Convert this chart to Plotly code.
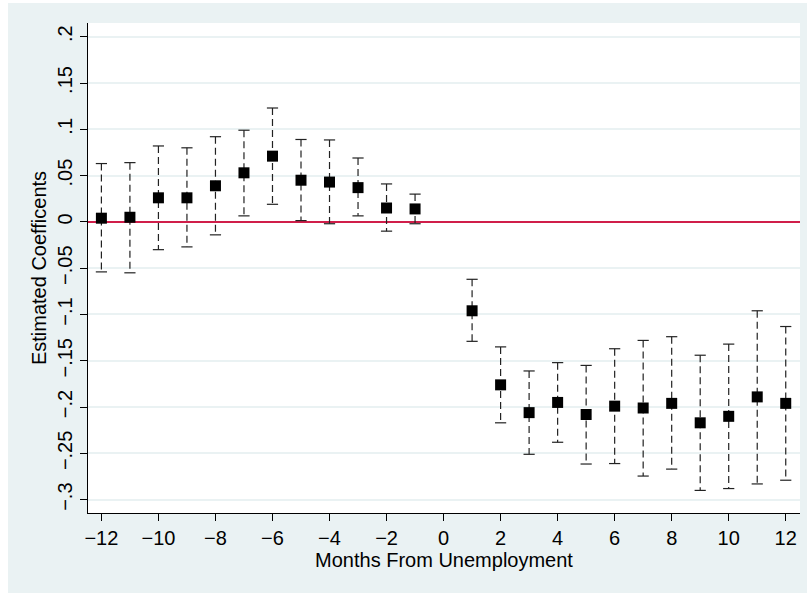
import plotly.graph_objects as go

months = [-12, -11, -10, -9, -8, -7, -6, -5, -4, -3, -2, -1,
          1, 2, 3, 4, 5, 6, 7, 8, 9, 10, 11, 12]
coef = [0.004, 0.005, 0.026, 0.026, 0.039, 0.053, 0.071, 0.045, 0.043, 0.037, 0.015, 0.014,
        -0.096, -0.176, -0.206, -0.195, -0.208, -0.199, -0.201, -0.196, -0.217, -0.210, -0.189, -0.196]
upper = [0.063, 0.064, 0.082, 0.080, 0.092, 0.099, 0.123, 0.089, 0.0885, 0.069, 0.041, 0.030,
         -0.062, -0.135, -0.161, -0.152, -0.155, -0.137, -0.128, -0.124, -0.144, -0.132, -0.096, -0.113]
lower = [-0.054, -0.055, -0.030, -0.027, -0.014, 0.0065, 0.019, 0.0014, -0.002, 0.0065, -0.010, -0.002,
         -0.129, -0.217, -0.251, -0.238, -0.2615, -0.261, -0.2745, -0.267, -0.290, -0.288, -0.283, -0.279]

x_tickvals = list(range(-12, 13, 2))
x_ticktext = [("\u2212" + str(-v)) if v < 0 else str(v) for v in x_tickvals]
y_tickvals = [0.2, 0.15, 0.1, 0.05, 0, -0.05, -0.1, -0.15, -0.2, -0.25, -0.3]
y_ticktext = [".2", ".15", ".1", ".05", "0", "\u2212.05", "\u2212.1", "\u2212.15", "\u2212.2", "\u2212.25", "\u2212.3"]

BG = "#EAF2F3"
FONT = "Liberation Sans, Arial, sans-serif"

# dashed vertical CI lines
lx, ly = [], []
for m, lo, hi in zip(months, lower, upper):
    lx += [m, m, None]
    ly += [hi, lo, None]

fig = go.Figure()
fig.add_trace(go.Scatter(x=lx, y=ly, mode="lines",
                         line=dict(color="#222222", width=1.2, dash="7px,4px"),
                         hoverinfo="skip", showlegend=False))
# caps
fig.add_trace(go.Scatter(x=months + months, y=upper + lower, mode="markers",
                         marker=dict(symbol="line-ew", size=8,
                                     line=dict(color="#222222", width=1.2)),
                         hoverinfo="skip", showlegend=False))
# point estimates
fig.add_trace(go.Scatter(x=months, y=coef, mode="markers",
                         marker=dict(symbol="square", size=11, color="black",
                                     line=dict(width=0)),
                         showlegend=False))

fig.update_layout(
    width=807, height=593,
    margin=dict(l=88, r=7, t=23, b=80),
    paper_bgcolor=BG, plot_bgcolor="white",
    font=dict(family=FONT, size=20, color="black"),
    showlegend=False,
    shapes=[
        dict(type="rect", xref="paper", yref="paper",
             x0=-88 / 712, x1=-80 / 712, y0=-80 / 490, y1=1 + 23 / 490,
             fillcolor="white", line=dict(width=0), layer="above"),
        dict(type="rect", xref="paper", yref="paper",
             x0=-88 / 712, x1=1 + 7 / 712, y0=1 + 20 / 490, y1=1 + 23 / 490,
             fillcolor="white", line=dict(width=0), layer="above"),
    ],
)

fig.update_xaxes(
    range=[-12.47, 12.5], tickvals=x_tickvals, ticktext=x_ticktext,
    showgrid=False, zeroline=False,
    showline=True, linecolor="black", linewidth=1.2,
    ticks="outside", ticklen=7, tickcolor="black", tickwidth=1.2,
    tickfont=dict(size=20),
    title=dict(text="Months From Unemployment", font=dict(size=20), standoff=0),
)
fig.update_yaxes(
    range=[-0.3144, 0.2148], tickvals=y_tickvals, ticktext=y_ticktext,
    showgrid=True, gridcolor=BG, gridwidth=1.5,
    zeroline=True, zerolinecolor="#D01E4A", zerolinewidth=1.6,
    showline=True, linecolor="black", linewidth=1.2,
    ticks="outside", ticklen=7, tickcolor="black", tickwidth=1.2,
    tickangle=-90, tickfont=dict(size=20),
    title=dict(text="Estimated Coefficents", font=dict(size=20), standoff=1),
)

fig.write_html("out.html")
